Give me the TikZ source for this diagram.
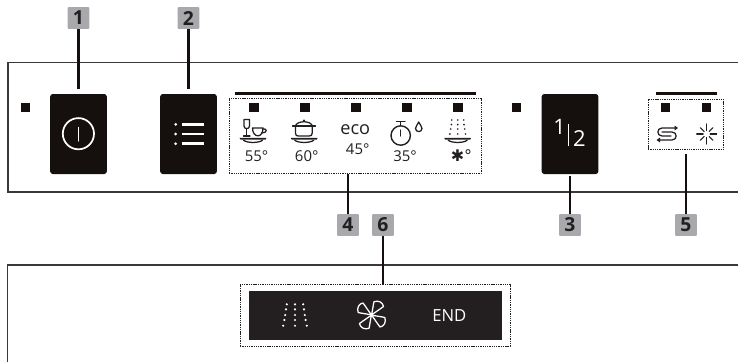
\documentclass[tikz,border=0pt]{standalone}
\usepackage{fontspec}
\setmainfont{Open Sans}
\newfontfamily\symfont{DejaVu Sans}
\definecolor{ink}{HTML}{231F20}
\definecolor{btn}{HTML}{15100D}
\definecolor{tag}{HTML}{A7A9AC}
\definecolor{edge}{HTML}{3A3838}
\newcommand{\pxfont}[1]{\fontsize{#1}{#1}\selectfont}
\tikzset{
  x=0.75pt,y=-0.75pt,
  panel/.style={draw=edge,line width=1pt},
  tagbox/.style={fill=tag,rounded corners=0.5pt,minimum width=16.2pt,minimum height=16.2pt,inner sep=0pt,text=ink,font=\bfseries\pxfont{14.5}},
  keybox/.style={fill=btn,rounded corners=2pt,minimum width=42.5pt,minimum height=60pt,inner sep=0pt},
  lamp/.style={fill=btn,minimum width=6.8pt,minimum height=6.8pt,inner sep=0pt},
  lead/.style={draw=btn,line width=1.6pt},
  bar/.style={draw=btn,line width=1.6pt},
  dotbox/.style={draw=ink,line width=0.7pt,dash pattern=on 1pt off 0.7pt,inner sep=0pt},
  icon/.style={draw=ink,line width=0.95pt,line cap=round,line join=round},
  whiteicon/.style={draw=white,line width=0.95pt,line cap=round,line join=round},
  temp/.style={inner sep=0pt,text=ink,font=\pxfont{11.2}},
}
\newcommand{\dishplate}[1]{%
  \fill[ink] (#1-13.5,137.8) -- (#1+13.5,137.8) -- (#1+12.5,139.6) -- (#1-12.5,139.6) -- cycle;
  \draw[icon] (#1-9.5,140.2) .. controls (#1-6,143.2) and (#1+6,143.2) .. (#1+9.5,140.2);
}
\begin{document}
\begin{tikzpicture}
\useasboundingbox (0,0) rectangle (738,362);
% panels
\draw[panel] (738,62.5) -- (8,62.5) -- (8,192) -- (738,192);
\draw[panel] (738,265) -- (7.5,265) -- (7.5,362);
% keys
\node[keybox] (k1) at (78.5,134) {};
\node[keybox] (k2) at (188.5,134) {};
\node[keybox] (k3) at (570,134) {};
\node[lamp] (lp1) at (25.5,107.5) {};
\node[lamp] (lp3) at (516.5,107.5) {};
% power icon
\draw[whiteicon,line width=1.3pt] (78.4,133.7) circle[radius=15.6];
\draw[whiteicon,line width=1pt] (78.4,127.5) -- (78.4,141);
% menu icon
\foreach \yy in {124.3,134,143.7}{
  \fill[white] (175.7,\yy) circle[radius=1.5];
  \draw[draw=white,line width=2.2pt] (182,\yy) -- (204,\yy);
}
% half load
\node[inner sep=0pt,text=white,font=\pxfont{16}] (one) at (559.5,127) {1};
\node[inner sep=0pt,text=white,font=\pxfont{16.5}] (two) at (579.5,138.5) {2};
\draw[draw=white,line width=0.95pt] (568.5,123.5) -- (568.5,146);
% group 4
\node[dotbox,minimum width=189pt,minimum height=56.2pt] (g4) at (355,136) {};
\draw[bar] (235,93.5) -- (476,93.5);
\foreach \n/\xx in {a/254,b/305,c/356,d/407,e/458}{
  \node[lamp] (l\n) at (\xx,107.5) {};
}
% glass and cup
\draw[icon] (244,119.5) -- (249.5,119.5) -- (249.5,126) .. controls (249.5,129.5) and (244,129.5) .. (244,126) -- cycle;
\draw[icon] (246.8,128.5) -- (246.8,135.8);
\draw[icon] (243.5,136) -- (250,136);
\draw[icon] (252.5,128) -- (263,128) .. controls (263,133) and (260.5,135.8) .. (258,135.8) .. controls (255,135.8) and (252.5,133) .. (252.5,128) -- cycle;
\draw[icon] (263,129) .. controls (267.5,128) and (267.5,133) .. (261.8,133);
\dishplate{253}
\node[temp] (t1) at (256.5,156.3) {55°};
% pot
\draw[icon] (295.5,125.5) -- (295.5,133) .. controls (295.5,135.5) and (296.5,136) .. (298.5,136) -- (309,136) .. controls (311,136) and (312.2,135.5) .. (312.2,133) -- (312.2,125.5);
\draw[icon] (292.5,126) -- (315.5,126);
\draw[icon] (295.5,125.5) .. controls (298,120.5) and (310,120.5) .. (312.2,125.5);
\fill[ink] (304,120.6) circle[radius=1.2];
\dishplate{304.2}
\node[temp] (t2) at (306.7,156.3) {60°};
% eco
\node[inner sep=0pt,text=ink,font=\pxfont{13.6}] (eco) at (355.3,130) {eco};
\node[temp] (t3) at (357.7,149.3) {45°};
% timer
\draw[icon,line width=1.05pt] (400.7,135.5) circle[radius=9.7];
\draw[icon] (400.7,122) -- (400.7,125.8);
\draw[icon,line width=1.1pt] (396.5,121.5) -- (405,121.5);
\draw[icon] (400.7,130) -- (400.7,136);
\draw[icon] (418.7,122) .. controls (417.5,125) and (415.5,126.5) .. (415.5,128.5) .. controls (415.5,132.5) and (422,132.5) .. (422,128.5) .. controls (422,126.5) and (420,125) .. (418.7,122) -- cycle;
\node[temp] (t4) at (405,155.7) {35°};
% spray over plate
\foreach \yy/\sp in {120/6,124.6/6.3,129/7,134/7.8}{
  \foreach \cc in {-1,0,1}{
    \fill[ink] (457.7+\cc*\sp,\yy) circle[radius=0.95];
  }
}
\dishplate{457.7}
\node[inner sep=0pt,text=ink,font=\symfont\pxfont{12}] (t5) at (461.5,155.5) {✱°};
% group 5
\node[dotbox,minimum width=56.7pt,minimum height=37.5pt] (g5) at (685.8,124.3) {};
\draw[bar] (656,93.5) -- (717,93.5);
\node[lamp] (lf) at (665.5,107.5) {};
\node[lamp] (lg) at (706.5,107.5) {};
% rinse loop
\draw[icon] (675,128) -- (662,128) .. controls (656.5,128) and (656.5,136) .. (662,136) -- (671,136);
\fill[ink] (678,128) -- (674.5,125.5) -- (674.5,130.5) -- cycle;
\draw[icon] (662,132) -- (672,132) .. controls (677.5,132) and (677.5,140) .. (672,140) -- (660,140);
\fill[ink] (656.5,140) -- (660,137.5) -- (660,142.5) -- cycle;
% sparkle
\foreach \ang/\rr in {0/6.5,90/6.5,180/6.5,270/6.5,45/5.5,135/5.5,225/5.5,315/5.5}{
  \draw[icon,line width=0.8pt] (706.7,134) ++(\ang:3.5) -- ++(\ang:\rr);
}
% bottom strip
\node[dotbox,minimum width=202.5pt,minimum height=46.2pt] (g6) at (375,315.3) {};
\node[fill=ink,minimum width=189.7pt,minimum height=36.7pt,inner sep=0pt] (strip) at (375.5,315.5) {};
\foreach \yy/\sp in {304.3/8.2,309.3/9,315/9.8,320/10.6,325.7/11.8}{
  \foreach \cc in {-1,0,1}{
    \fill[white] (295+\cc*\sp,\yy) circle[radius=1.2];
  }
}
\foreach \rot in {0,90,180,270}{
  \draw[whiteicon,shift={(371.5,315)},rotate=\rot] (0,0) .. controls (5,1.2) and (9,1.5) .. (13.3,2.5) .. controls (15,7) and (12.5,11.5) .. (8.5,12) .. controls (5.5,8) and (3,4) .. (0,0) -- cycle;
}
\node[inner sep=0pt,text=white,font=\pxfont{12.5}] (endt) at (449.3,315.3) {END};
% tags
\node[tagbox] (n1) at (78.5,18) {1};
\node[tagbox] (n2) at (188.5,18) {2};
\node[tagbox] (n3) at (570,225) {3};
\node[tagbox] (n4) at (348,225) {4};
\node[tagbox] (n5) at (686,225) {5};
\node[tagbox] (n6) at (383,225) {6};
% leaders
\draw[lead,shorten >=3.6pt] (n1.south) -- (k1.north);
\draw[lead,shorten >=3.6pt] (n2.south) -- (k2.north);
\draw[lead,shorten >=1.5pt] (n3.north) -- (k3.south);
\draw[lead] (n4.north) -- (n4.north |- g4.south);
\draw[lead,shorten >=2.8pt] (n5.north) -- (n5.north |- g5.south);
\draw[lead] (n6.south) -- (n6.south |- g6.north);
\end{tikzpicture}
\end{document}
